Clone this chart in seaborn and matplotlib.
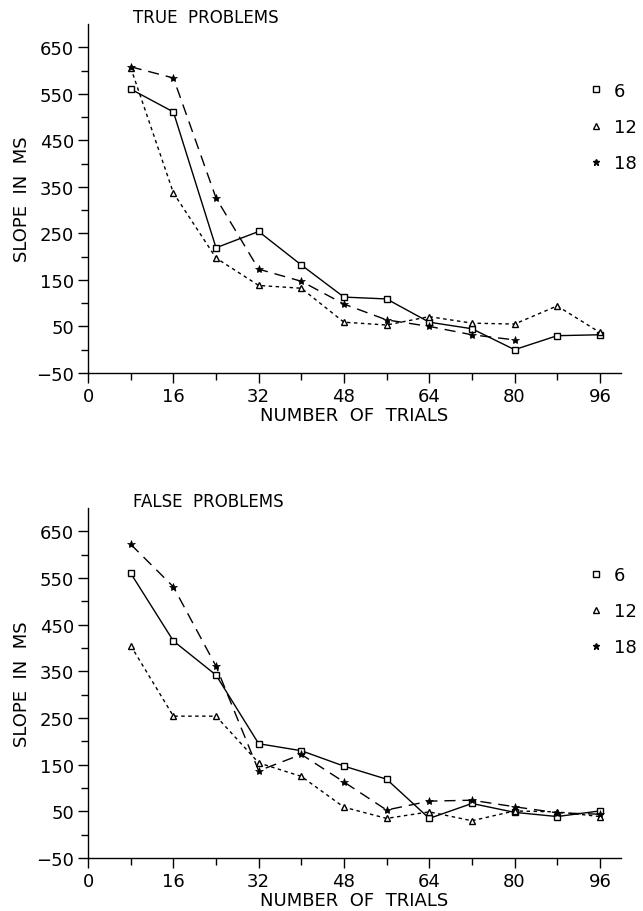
import numpy as np
import pandas as pd
import matplotlib
matplotlib.use("Agg")
import matplotlib.pyplot as plt
import seaborn as sns
from matplotlib.lines import Line2D
from matplotlib.ticker import FixedLocator

sns.set_style("ticks")
plt.rcParams['font.family'] = ['DejaVu Sans']
plt.rcParams['text.color'] = 'black'
plt.rcParams['axes.labelcolor'] = 'black'

trials = [8, 16, 24, 32, 40, 48, 56, 64, 72, 80, 88, 96]

true_6 = [560, 511, 219, 254, 182, 113, 109, 59, 45, 0, 30, 32]
true_12 = [606, 337, 197, 138, 132, 59, 53, 71, 57, 55, 94, 37]
true_18 = [608, 584, 326, 173, 147, 98, 64, 50, 32, 21, np.nan, np.nan]

false_6 = [560, 415, 342, 195, 180, 147, 119, 35, 67, 48, 39, 51]
false_12 = [405, 254, 254, 154, 125, 59, 35, 49, 30, 51, 49, 39]
false_18 = [622, 531, 361, 137, 172, 113, 53, 72, 74, 60, 47, 44]

set_sizes = ["6", "12", "18"]
panel_titles = ["TRUE  PROBLEMS", "FALSE  PROBLEMS"]
x_ticks = [0, 16, 32, 48, 64, 80, 96]
y_ticks = [-50, 50, 150, 250, 350, 450, 550, 650]

styles = {
    "6": dict(marker="s", ms=5, mfc="white", mec="black", mew=1.0, linestyle="-"),
    "12": dict(marker="^", ms=5, mfc="white", mec="black", mew=1.0, linestyle=(0, (2.5, 2.5))),
    "18": dict(marker="*", ms=6, mfc="black", mec="black", mew=0.5, linestyle=(0, (8, 5))),
}

fig = plt.figure(figsize=(6.43, 9.12), dpi=100)
ax_top = fig.add_axes([0.137, 0.590, 0.829, 0.3826])
ax_bot = fig.add_axes([0.137, 0.058, 0.829, 0.384])

panels = [
    (ax_top, {"6": true_6, "12": true_12, "18": true_18}),
    (ax_bot, {"6": false_6, "12": false_12, "18": false_18}),
]

for (ax, series), title in zip(panels, panel_titles):
    for key in set_sizes:
        df = pd.DataFrame({"trials": trials, "slope": series[key]}).dropna()
        st = styles[key]
        sns.lineplot(data=df, x="trials", y="slope", ax=ax, color="black",
                     linewidth=1.0, marker=st["marker"], markersize=st["ms"],
                     markerfacecolor=st["mfc"], markeredgecolor=st["mec"],
                     markeredgewidth=st["mew"], linestyle=st["linestyle"],
                     estimator=None, errorbar=None, sort=False)
    ax.set_xlim(0, 100)
    ax.set_ylim(-50, 700)
    ax.xaxis.set_major_locator(FixedLocator(x_ticks))
    ax.xaxis.set_minor_locator(FixedLocator([8, 24, 40, 56, 72, 88]))
    ax.yaxis.set_major_locator(FixedLocator(y_ticks))
    ax.yaxis.set_minor_locator(FixedLocator([0, 100, 200, 300, 400, 500, 600]))
    ax.set_xticklabels([str(t) for t in x_ticks])
    ax.set_yticklabels(["\u221250" if t < 0 else str(t) for t in y_ticks])
    ax.tick_params(axis="both", which="major", direction="out", length=7, width=1,
                   labelsize=13, pad=3, colors="black")
    ax.tick_params(axis="both", which="minor", direction="out", length=5, width=1,
                   colors="black")
    sns.despine(ax=ax)
    for s in ["left", "bottom"]:
        ax.spines[s].set_linewidth(1.0)
        ax.spines[s].set_color("black")
    ax.set_xlabel("NUMBER  OF  TRIALS", fontsize=13, labelpad=1, color="black")
    ax.set_ylabel("SLOPE  IN  MS", fontsize=13, labelpad=4, color="black")
    ax.text(0.084, 1.02, title, transform=ax.transAxes, fontsize=12,
            ha="left", va="center", color="black")
    handles = [Line2D([], [], color="black", linestyle="none", marker=styles[k]["marker"],
                      markersize=4.5, markerfacecolor=styles[k]["mfc"],
                      markeredgecolor="black", markeredgewidth=1.0) for k in set_sizes]
    leg = ax.legend(handles, set_sizes, loc="upper left", bbox_to_anchor=(0.925, 0.855),
                    frameon=False, fontsize=13, handlelength=0.8, handletextpad=0.6,
                    labelspacing=1.0, borderaxespad=0, labelcolor="black")
    leg.set_clip_on(False)

fig.savefig("out.png", dpi=100, facecolor="white")
